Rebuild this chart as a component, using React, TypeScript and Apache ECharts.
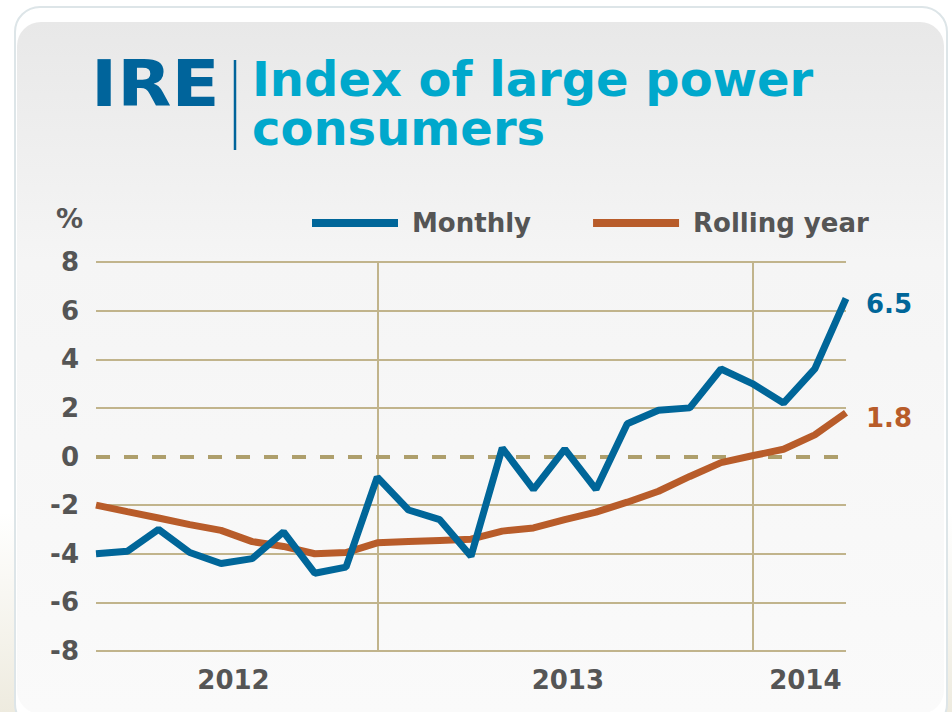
import React, { useEffect, useRef } from 'react';
import * as echarts from 'echarts';

// Month index 0..24 (one point per month); year boundaries fall on indices 9 and 21
const monthly = [-4.0, -3.9, -3.0, -3.95, -4.4, -4.2, -3.1, -4.8, -4.55, -0.85, -2.2, -2.6, -4.1, 0.35, -1.35, 0.3, -1.35, 1.35, 1.9, 2.0, 3.6, 3.0, 2.2, 3.6, 6.5];
const rolling = [-2.0, -2.27, -2.53, -2.8, -3.04, -3.5, -3.7, -4.0, -3.95, -3.55, -3.5, -3.45, -3.4, -3.07, -2.94, -2.6, -2.29, -1.88, -1.43, -0.82, -0.25, 0.03, 0.3, 0.89, 1.8];
const yearLabels = ['2012', '2013', '2014'];
const yearLabelAt = [4.4, 15.1, 22.7];
const yearBoundaries = [9, 21];
const seriesNames = ['Monthly', 'Rolling year'];
const titleLines = ['Index of large power', 'consumers'];

const BLUE = '#006699';
const ORANGE = '#b85c2a';
const GRID = '#c1b48c';
const ZERO = '#ae9f6c';
const LABEL = '#555555';
const FONT = '"DejaVu Sans", Verdana, sans-serif';

export default function App() {
  const ref = useRef<HTMLDivElement>(null);

  useEffect(() => {
    if (!ref.current) return;
    const chart = echarts.init(ref.current, null, { renderer: 'svg' });
    const gridColors = [GRID, GRID, GRID, GRID, 'rgba(0,0,0,0)', GRID, GRID, GRID, GRID];
    const option: any = {
      animation: false,
      backgroundColor: 'transparent',
      textStyle: { fontFamily: FONT },
      grid: { left: 96, right: 106, top: 262, bottom: 61, containLabel: false },
      legend: {
        left: 312,
        top: 208,
        padding: 0,
        itemWidth: 86,
        itemHeight: 8,
        itemGap: 62,
        icon: 'rect',
        data: seriesNames,
        textStyle: { fontSize: 26, fontWeight: 'bold', color: LABEL, lineHeight: 30, padding: [0, 0, 0, 9], fontFamily: FONT },
      },
      xAxis: {
        type: 'value',
        min: 0,
        max: monthly.length - 1,
        axisLine: { show: false },
        axisTick: { show: false },
        splitLine: { show: false },
        axisLabel: {
          customValues: yearLabelAt,
          formatter: (v: number) => {
            const i = yearLabelAt.findIndex((p) => Math.abs(p - v) < 1e-6);
            return i >= 0 ? yearLabels[i] : '';
          },
          fontSize: 26,
          fontWeight: 'bold',
          color: LABEL,
          margin: 16,
          fontFamily: FONT,
        },
      },
      yAxis: {
        type: 'value',
        min: -8,
        max: 8,
        interval: 2,
        axisLine: { show: false },
        axisTick: { show: false },
        axisLabel: { fontSize: 26, fontWeight: 'bold', color: LABEL, margin: 17, fontFamily: FONT },
        splitLine: { show: true, lineStyle: { color: gridColors, width: 2 } },
      },
      graphic: [
        {
          type: 'text',
          x: 91,
          y: 52,
          scaleX: 1.1,
          style: { text: 'IRE', font: `bold 64px ${FONT}`, fill: '#00649b', align: 'left', verticalAlign: 'top' },
        },
        {
          type: 'line',
          shape: { x1: 235, y1: 60, x2: 235, y2: 150 },
          style: { stroke: '#00649b', lineWidth: 2.5 },
        },
        {
          type: 'text',
          x: 252,
          y: 55,
          style: { text: titleLines[0], font: `bold 48px ${FONT}`, lineHeight: 48, fill: '#00a8cc', align: 'left', verticalAlign: 'top' },
        },
        {
          type: 'text',
          x: 252,
          y: 104,
          style: { text: titleLines[1], font: `bold 48px ${FONT}`, lineHeight: 48, fill: '#00a8cc', align: 'left', verticalAlign: 'top' },
        },
        {
          type: 'text',
          x: 83,
          y: 218,
          style: { text: '%', font: `bold 27px ${FONT}`, fill: LABEL, align: 'right', verticalAlign: 'middle' },
        },
      ],
      series: [
        {
          name: seriesNames[1],
          type: 'line',
          data: rolling.map((v, i) => [i, v]),
          symbol: 'none',
          showSymbol: false,
          z: 3,
          lineStyle: { color: ORANGE, width: 7 },
          itemStyle: { color: ORANGE },
          endLabel: {
            show: true,
            formatter: (p: any) => Number(p.value[1]).toFixed(1),
            color: ORANGE,
            fontSize: 26,
            fontWeight: 'bold',
            fontFamily: FONT,
            distance: 20,
            offset: [0, 5],
          },
          markLine: {
            silent: true,
            symbol: 'none',
            z: 1,
            label: { show: false },
            lineStyle: { color: GRID, width: 2, type: 'solid' },
            data: [
              ...yearBoundaries.map((b) => ({ xAxis: b })),
              { yAxis: 0, lineStyle: { color: ZERO, width: 4, type: [14, 14] } },
            ],
          },
        },
        {
          name: seriesNames[0],
          type: 'line',
          data: monthly.map((v, i) => [i, v]),
          symbol: 'none',
          showSymbol: false,
          z: 4,
          lineStyle: { color: BLUE, width: 7 },
          itemStyle: { color: BLUE },
          endLabel: {
            show: true,
            formatter: (p: any) => Number(p.value[1]).toFixed(1),
            color: BLUE,
            fontSize: 26,
            fontWeight: 'bold',
            fontFamily: FONT,
            distance: 20,
            offset: [0, 6],
          },
        },
      ],
    };
    chart.setOption(option);
    return () => chart.dispose();
  }, []);

  return (
    <div
      style={{
        position: 'fixed',
        left: 0,
        top: 0,
        width: 952,
        height: 712,
        overflow: 'hidden',
        background: 'linear-gradient(to bottom, #ffffff 0%, #ffffff 72%, #eeebdf 100%)',
      }}
    >
      <div
        style={{
          position: 'absolute',
          left: 14,
          top: 6,
          width: 930,
          height: 720,
          borderRadius: 26,
          border: '2px solid #dde5e8',
          background: '#ffffff',
        }}
      />
      <div
        style={{
          position: 'absolute',
          left: 17,
          top: 22,
          width: 927,
          height: 692,
          borderRadius: 24,
          background: 'linear-gradient(to bottom, #e8e8e8 0px, #f5f5f5 240px, #fafafa 100%)',
        }}
      />
      <div ref={ref} style={{ position: 'absolute', left: 0, top: 0, width: 952, height: 712 }} />
    </div>
  );
}
